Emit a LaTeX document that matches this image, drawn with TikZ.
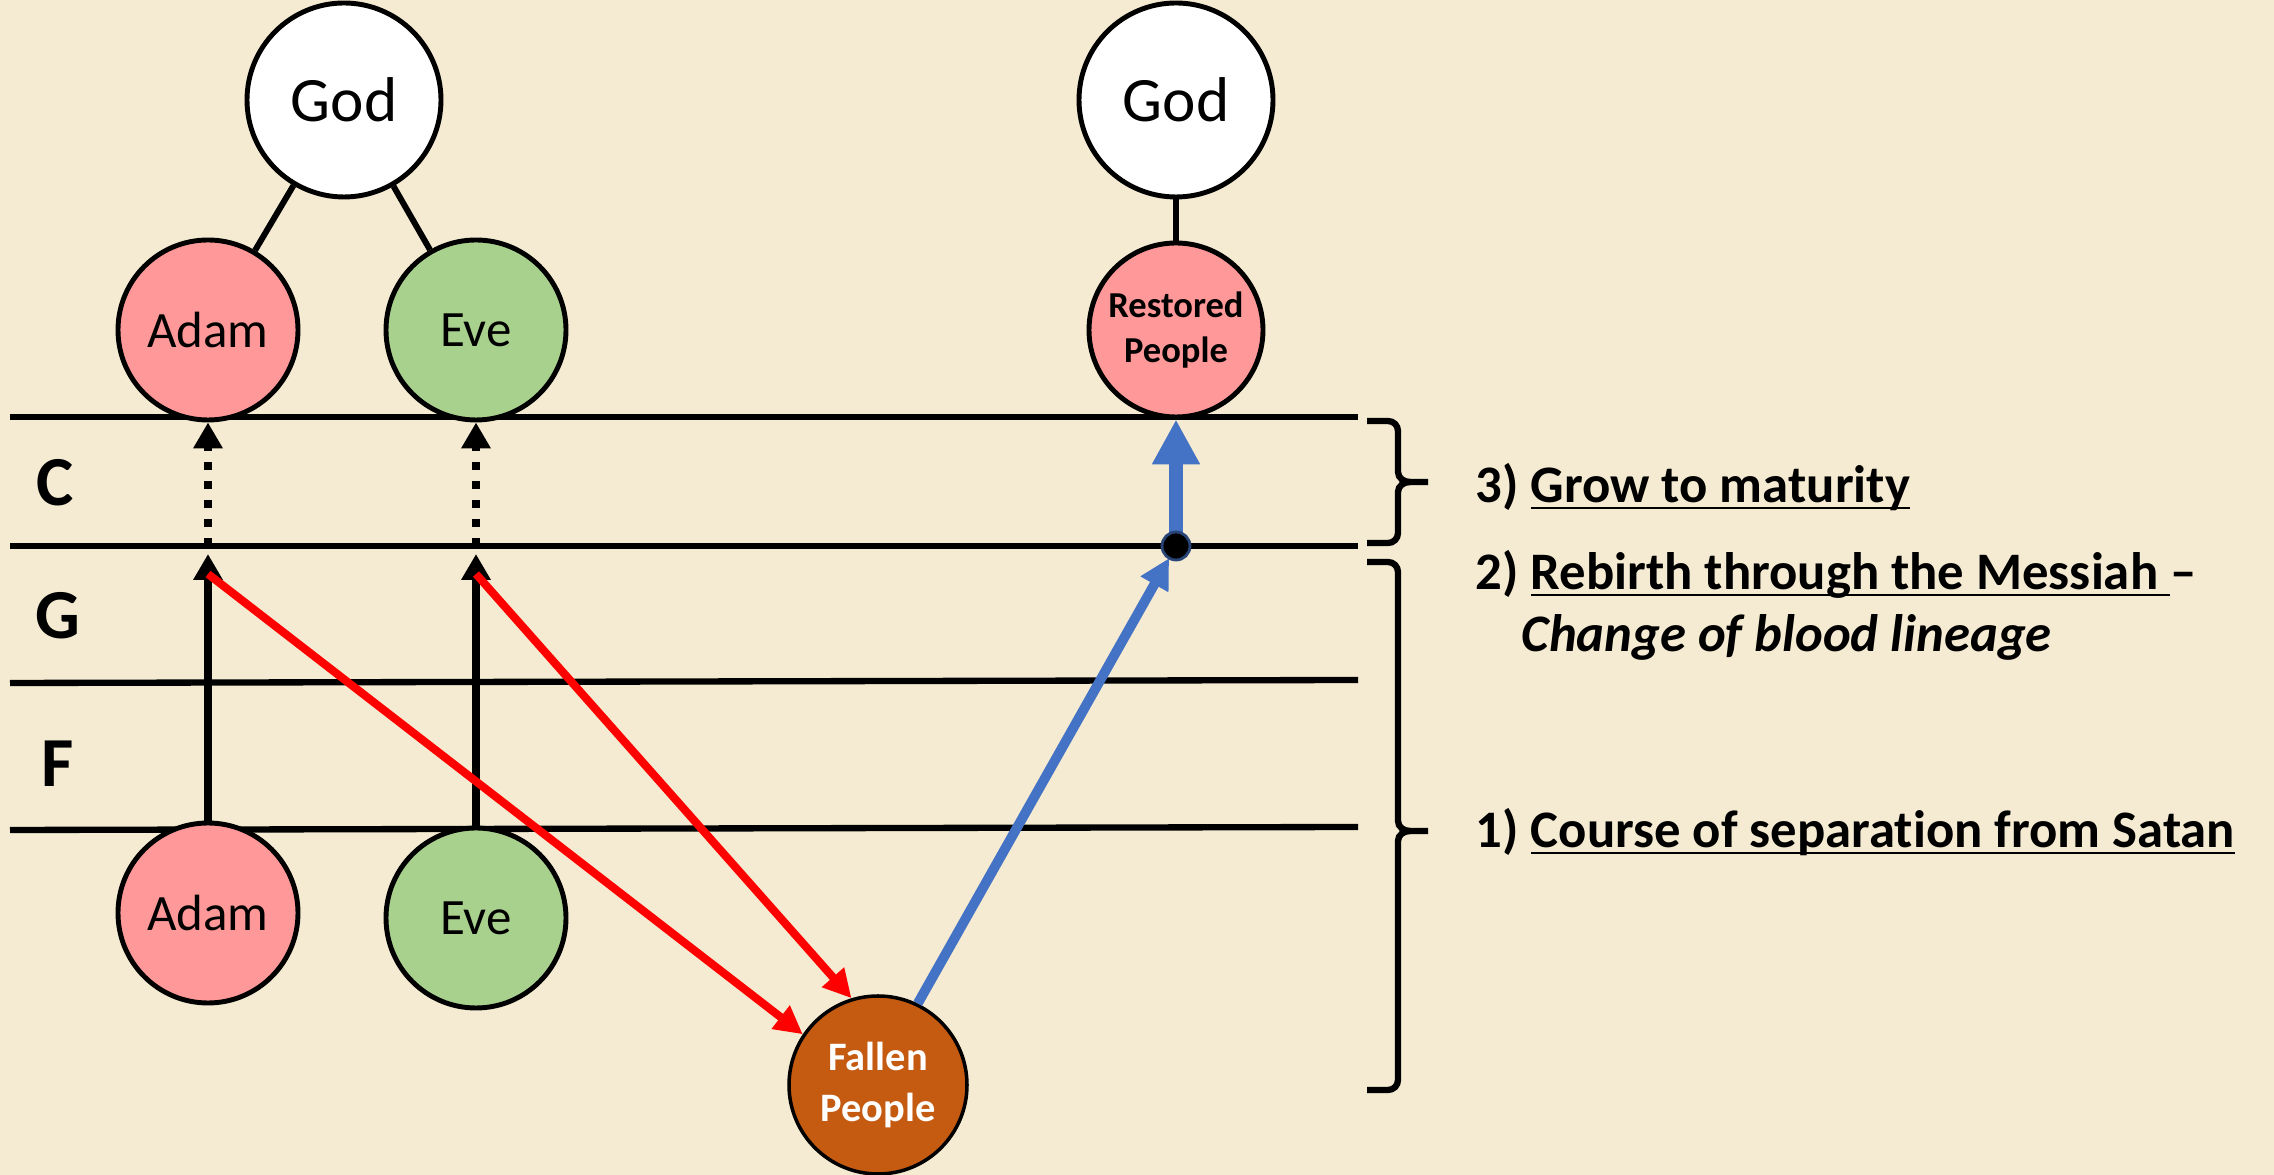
\documentclass[tikz,border=0pt]{standalone}
\usepackage{fontspec}
\setmainfont{Carlito}[Ligatures=NoCommon]
\usetikzlibrary{arrows.meta}
\definecolor{paper}{HTML}{F5EBD2}
\definecolor{adampink}{HTML}{FF9999}
\definecolor{evegreen}{HTML}{A9D18E}
\definecolor{fallenbrown}{HTML}{C55A11}
\definecolor{messiahblue}{HTML}{4472C4}
\newcommand\ul[1]{\underline{\smash{#1}}}
% square curly bracket: top, middle, bottom
\newcommand\stagebrace[3]{%
  \draw[bracket] (13.67,#1) -- (13.88,#1) to[out=0,in=90] (13.98,#1-0.1)
    -- (13.98,#2+0.1) to[out=-90,in=180] (14.10,#2) -- (14.28,#2);
  \draw[bracket] (13.67,#3) -- (13.88,#3) to[out=0,in=-90] (13.98,#3+0.1)
    -- (13.98,#2-0.1) to[out=90,in=180] (14.10,#2);}

\begin{document}
\begin{tikzpicture}[
  person/.style={circle, draw=black, line width=1.4pt, inner sep=0pt, minimum size=1.8cm,
    font=\fontsize{14.5}{17}\selectfont},
  godnode/.style={person, fill=white, minimum size=1.94cm, font=\fontsize{18}{21}\selectfont},
  level/.style={line width=1.8pt},
  tie/.style={line width=1.7pt},
  growth/.style={line width=2pt, -{Triangle[length=2.6mm,width=2.8mm]}},
  fall/.style={red, line width=2.3pt, -{Triangle[length=2.8mm,width=2.8mm]}},
  rebirth/.style={messiahblue, line width=2.8pt, -{Triangle[length=3mm,width=3mm]}},
  bracket/.style={line width=1.8pt},
  stage/.style={anchor=base west, inner xsep=0pt, font=\bfseries\fontsize{15}{18}\selectfont},
  letter/.style={font=\bfseries\fontsize{20}{24}\selectfont}
]
  \useasboundingbox[fill=paper] (0,0) rectangle (22.74,11.75);

  \draw[level] (0.10,7.58) -- (13.58,7.58);
  \draw[level] (0.10,6.29) -- (13.58,6.29);
  \draw[level] (0.10,4.92) -- (13.58,4.95);
  \draw[level] (0.10,3.45) -- (13.58,3.48);

  \node[letter] (lc) at (0.55,6.92) {C};
  \node[letter] (lg) at (0.58,5.59) {G};
  \node[letter] (lf) at (0.58,4.11) {F};

  \node[godnode] (godL) at (3.44,10.75) {God};
  \node[godnode] (godR) at (11.76,10.75) {God};
  \node[person, fill=adampink] (adamT) at (2.08,8.45) {Adam};
  \node[person, fill=evegreen] (eveT) at (4.76,8.45) {Eve};
  \node[person, fill=adampink, minimum size=1.74cm,
    font=\bfseries\fontsize{10.4}{12.8}\selectfont, align=center] (restored) at (11.76,8.45) {Restored\\People};
  \node[person, fill=adampink] (adamB) at (2.08,2.62) {Adam};
  \node[person, fill=evegreen] (eveB) at (4.76,2.57) {Eve};
  \node[person, fill=fallenbrown, line width=1pt, minimum size=1.78cm, text=white,
    font=\bfseries\fontsize{11.5}{14.5}\selectfont, align=center] (fallen) at (8.78,0.90) {Fallen\\People};

  \draw[tie] (godL) -- (adamT);
  \draw[tie] (godL) -- (eveT);
  \draw[tie] (godR) -- (restored);

  \coordinate (adamG) at (2.08,6.21);
  \coordinate (adamC) at (2.08,6.29);
  \coordinate (eveG) at (4.76,6.21);
  \coordinate (eveC) at (4.76,6.29);
  \coordinate (rebirth) at (11.76,6.29);

  \draw[growth] (adamB) -- (adamG);
  \draw[growth] (eveB) -- (eveG);
  \draw[growth, dash pattern=on 2.3pt off 3.1pt] (adamC) -- (adamT);
  \draw[growth, dash pattern=on 2.3pt off 3.1pt] (eveC) -- (eveT);

  \draw[fall] ([yshift=-2mm]adamG) -- (fallen.146);
  \draw[fall] ([yshift=-2mm]eveG) -- (fallen.107);

  \draw[rebirth, shorten >=1.4mm] (fallen.64) -- (rebirth);
  \draw[messiahblue, line width=4pt, -{Triangle[length=4.5mm,width=4.5mm]}] (rebirth) -- (restored);
  \node[circle, fill=black, draw=messiahblue!60!black, line width=0.8pt, inner sep=0pt,
    minimum size=0.28cm] (dot) at (rebirth) {};

  \stagebrace{7.54}{6.93}{6.32}
  \stagebrace{6.13}{3.44}{0.85}

  \node[stage] (s3) at (14.75,6.72) {3) \ul{Grow to maturity}};
  \node[stage] (s2) at (14.75,5.85) {2) \ul{Rebirth through the Messiah }--};
  \node[stage] (s2b) at (15.21,5.23) {\itshape Change of blood lineage};
  \node[stage] (s1) at (14.75,3.27) {1) \ul{Course of separation from Satan}};
\end{tikzpicture}
\end{document}
